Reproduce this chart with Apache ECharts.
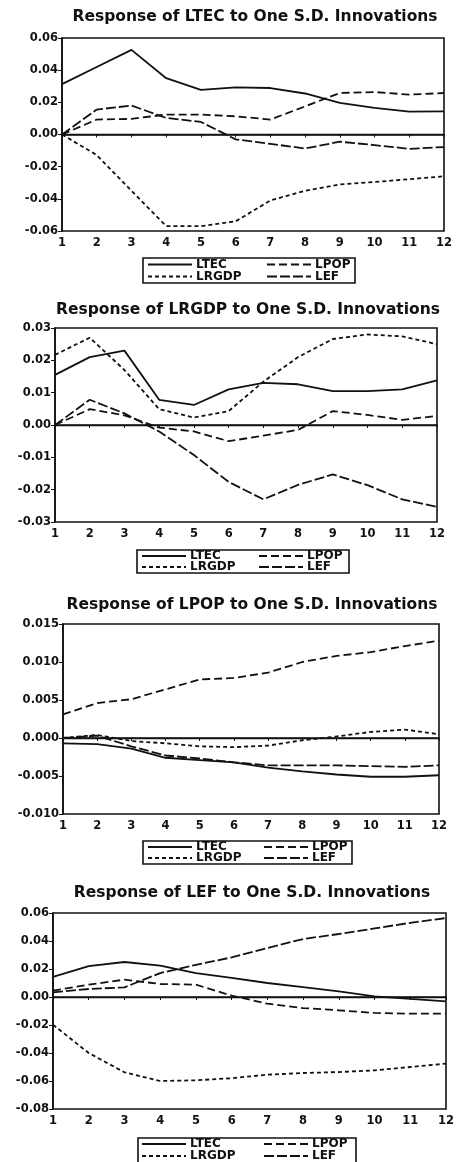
<!DOCTYPE html>
<html>
<head>
<meta charset="utf-8">
<script src="https://cdn.jsdelivr.net/npm/echarts@6/dist/echarts.min.js"></script>
<style>
html,body{margin:0;padding:0;background:#fff;}
#chart{width:464px;height:1162px;}
</style>
</head>
<body>
<div id="chart"></div>
<script>
// ---- data ----
const periods = ['1','2','3','4','5','6','7','8','9','10','11','12'];
const seriesNames = ['LTEC','LRGDP','LPOP','LEF'];
const titles = [
  'Response of LTEC to One S.D. Innovations',
  'Response of LRGDP to One S.D. Innovations',
  'Response of LPOP to One S.D. Innovations',
  'Response of LEF to One S.D. Innovations'
];
// Response of LTEC
const ltec_LTEC  = [0.0313,0.042,0.0526,0.035,0.0278,0.0293,0.0289,0.0255,0.0196,0.0165,0.0142,0.0144];
const ltec_LRGDP = [0.0,-0.0128,-0.035,-0.057,-0.057,-0.054,-0.041,-0.035,-0.031,-0.0295,-0.0278,-0.026];
const ltec_LPOP  = [0.0,0.0093,0.0097,0.0124,0.0124,0.0113,0.0093,0.0175,0.0258,0.0264,0.0248,0.0258];
const ltec_LEF   = [0.0,0.0155,0.018,0.0103,0.0078,-0.003,-0.0058,-0.0087,-0.0045,-0.0066,-0.0089,-0.0078];
// Response of LRGDP
const lrgdp_LTEC  = [0.0155,0.021,0.023,0.0078,0.0062,0.011,0.013,0.0126,0.0105,0.0105,0.011,0.0138];
const lrgdp_LRGDP = [0.0217,0.027,0.017,0.0049,0.0023,0.0043,0.0134,0.021,0.0266,0.028,0.0274,0.025];
const lrgdp_LPOP  = [0.0,0.0049,0.003,-0.0008,-0.002,-0.005,-0.0033,-0.0015,0.0043,0.0031,0.0016,0.0028];
const lrgdp_LEF   = [0.0,0.0078,0.0036,-0.002,-0.0093,-0.0176,-0.023,-0.0185,-0.0153,-0.0186,-0.023,-0.0253];
// Response of LPOP
const lpop_LTEC  = [-0.0007,-0.0008,-0.0014,-0.0026,-0.0029,-0.0032,-0.0039,-0.0044,-0.0048,-0.0051,-0.0051,-0.0049];
const lpop_LRGDP = [0.0,0.0004,-0.0004,-0.0007,-0.0011,-0.0012,-0.001,-0.0003,0.0002,0.0008,0.0011,0.0005];
const lpop_LPOP  = [0.0031,0.0046,0.0051,0.0064,0.0077,0.0079,0.0086,0.0100,0.0108,0.0113,0.0121,0.0128];
const lpop_LEF   = [0.0,0.0003,-0.0011,-0.0023,-0.0027,-0.0032,-0.0036,-0.0036,-0.0036,-0.0037,-0.0038,-0.0036];
// Response of LEF
const lef_LTEC  = [0.0143,0.022,0.025,0.0224,0.0171,0.0136,0.010,0.0071,0.004,0.0005,-0.0014,-0.0031];
const lef_LRGDP = [-0.0198,-0.040,-0.0538,-0.060,-0.0595,-0.058,-0.0555,-0.0543,-0.0536,-0.0524,-0.050,-0.0476];
const lef_LPOP  = [0.0045,0.0088,0.0124,0.0093,0.0088,0.001,-0.0048,-0.0079,-0.0095,-0.0114,-0.0119,-0.0119];
const lef_LEF   = [0.0033,0.0057,0.0069,0.0171,0.023,0.0283,0.035,0.0414,0.045,0.049,0.053,0.0564];

const yMin = [-0.06,-0.03,-0.010,-0.08];
const yMax = [0.06,0.03,0.015,0.06];
const yStep = [0.02,0.01,0.005,0.02];
const yDec = [2,2,3,2];

const panelData = [
  [ltec_LTEC, ltec_LRGDP, ltec_LPOP, ltec_LEF],
  [lrgdp_LTEC, lrgdp_LRGDP, lrgdp_LPOP, lrgdp_LEF],
  [lpop_LTEC, lpop_LRGDP, lpop_LPOP, lpop_LEF],
  [lef_LTEC, lef_LRGDP, lef_LPOP, lef_LEF]
];

// ---- layout ----
const grids = [
  {left:62, right:20, top:38, height:193},
  {left:55, right:27, top:328, height:194},
  {left:63, right:25, top:624, height:190},
  {left:53, right:18, top:913, height:196}
];
const titleTop = [4, 297, 592, 880];
const titleX = [250, 243, 247, 247];
const legBox = [
  {x:143, y:258, w:212, h:25, c1:147, c2:266, r1:264.5, r2:276.5},
  {x:137, y:550, w:212, h:23, c1:141, c2:258, r1:556, r2:567},
  {x:143, y:841, w:209, h:23, c1:147, c2:263, r1:847, r2:858},
  {x:138, y:1138, w:218, h:26, c1:141, c2:263, r1:1144, r2:1156}
];
const lineStyles = {
  LTEC:  {type:'solid'},
  LRGDP: {type:[4,3]},
  LPOP:  {type:[8,4]},
  LEF:   {type:[10,3]}
};
const FONT = 'DejaVu Sans';

const option = {
  animation:false,
  backgroundColor:'#fff',
  title: titles.map((t,i)=>({
    text:t, left:titleX[i], top:titleTop[i], textAlign:'center',
    textStyle:{fontFamily:FONT, fontSize:15.5, fontWeight:'bold', color:'#111'}
  })),
  grid: grids.map(g=>Object.assign({show:true, borderColor:'#111', borderWidth:1.6, backgroundColor:'transparent'}, g)),
  xAxis: grids.map((g,i)=>({
    type:'category', gridIndex:i, data:periods, boundaryGap:false,
    axisLine:{lineStyle:{color:'#111', width:1.6}},
    axisTick:{show:true, alignWithLabel:true, length:3, lineStyle:{color:'#111'}},
    axisLabel:{fontFamily:FONT, fontSize:11.5, fontWeight:'bold', color:'#111', margin:6},
    splitLine:{show:false}
  })),
  yAxis: grids.map((g,i)=>({
    type:'value', gridIndex:i, min:yMin[i], max:yMax[i], interval:yStep[i],
    axisLine:{show:true, lineStyle:{color:'#111', width:1.6}},
    axisTick:{show:true, length:4, lineStyle:{color:'#111'}},
    splitLine:{show:false},
    axisLabel:{fontFamily:FONT, fontSize:11.5, fontWeight:'bold', color:'#111', margin:4,
      formatter:(v)=>{ if (Math.abs(v)<1e-12) v=0; return v.toFixed(yDec[i]); }}
  })),
  legend: [],
  graphic: legBox.map(b=>({
    type:'rect', shape:{x:b.x, y:b.y, width:b.w, height:b.h},
    style:{fill:'none', stroke:'#111', lineWidth:1.6}, silent:true, z:0
  })),
  series: []
};

legBox.forEach((b,i)=>{
  const items = [
    {name:'LTEC', left:b.c1, top:b.r1},
    {name:'LPOP', left:b.c2, top:b.r1},
    {name:'LRGDP', left:b.c1, top:b.r2},
    {name:'LEF', left:b.c2, top:b.r2}
  ];
  items.forEach(it=>{
    option.legend.push({
      data:[it.name], left:it.left, top:it.top-6, orient:'horizontal',
      itemWidth:44, itemHeight:10, padding:0, selectedMode:false,
      itemStyle:{opacity:0},
      textStyle:{fontFamily:FONT, fontSize:12, fontWeight:'bold', color:'#111', lineHeight:12, padding:[0,0,0,-1]}
    });
  });
});

panelData.forEach((arrs,i)=>{
  seriesNames.forEach((nm,k)=>{
    const s = {
      name:nm, type:'line', xAxisIndex:i, yAxisIndex:i, data:arrs[k],
      symbol:'none', showSymbol:false,
      lineStyle:Object.assign({color:'#111', width:1.8}, lineStyles[nm]),
      itemStyle:{color:'#111'}
    };
    if (k===0) {
      s.markLine = {silent:true, symbol:'none', label:{show:false},
        lineStyle:{color:'#111', type:'solid', width:1.3},
        data:[{yAxis:0}]};
    }
    option.series.push(s);
  });
});

const chart = echarts.init(document.getElementById('chart'), null, {renderer:'canvas'});
chart.setOption(option);
</script>
</body>
</html>
